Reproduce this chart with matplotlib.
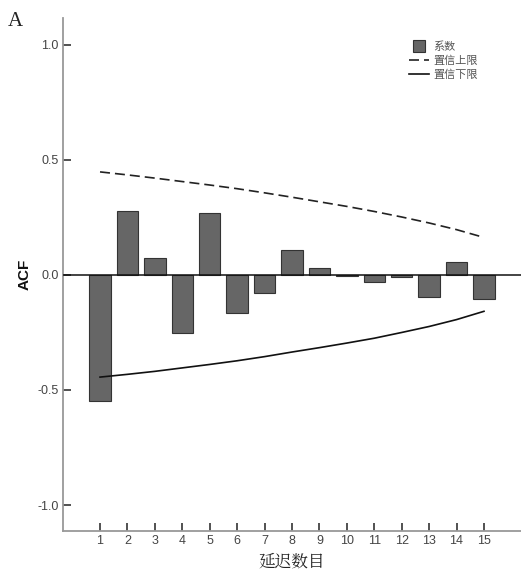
import matplotlib
matplotlib.use("Agg")
import matplotlib.pyplot as plt
from matplotlib.lines import Line2D

plt.rcParams['font.family'] = ['Liberation Sans', 'Noto Sans CJK SC', 'DejaVu Sans']

lags = [1, 2, 3, 4, 5, 6, 7, 8, 9, 10, 11, 12, 13, 14, 15]
acf = [-0.548, 0.280, 0.075, -0.252, 0.268, -0.165, -0.078, 0.107, 0.032,
       -0.003, -0.029, -0.009, -0.096, 0.058, -0.103]
upper = [0.448, 0.435, 0.421, 0.406, 0.391, 0.375, 0.357, 0.338, 0.318,
         0.298, 0.276, 0.252, 0.226, 0.197, 0.163]
lower = [-0.444, -0.432, -0.419, -0.404, -0.389, -0.373, -0.355, -0.335, -0.316,
         -0.296, -0.275, -0.250, -0.224, -0.194, -0.158]
yticks = [-1.0, -0.5, 0.0, 0.5, 1.0]
ytick_labels = ["-1.0", "-0.5", "0.0", "0.5", "1.0"]
legend_labels = ["系数", "置信上限", "置信下限"]

fig = plt.figure(figsize=(5.21, 5.75), dpi=100)
ax = fig.add_axes([63/521, 44/575, 1 - 63/521, (531-18)/575])

ax.bar(lags, acf, width=0.78, color='#666666', edgecolor='#333333', linewidth=0.8, zorder=2)
ax.axhline(0, color='#111111', linewidth=1.1, zorder=3)
ax.plot(lags, upper, color='#222222', linestyle=(0, (6, 3)), linewidth=1.2, zorder=4)
ax.plot(lags, lower, color='#111111', linestyle='-', linewidth=1.2, zorder=4)

ax.set_xlim(-0.35, 16.35)
ax.set_ylim(-1.113, 1.117)
ax.set_xticks(lags)
ax.set_xticklabels([str(l) for l in lags])
ax.set_yticks(yticks)
ax.set_yticklabels(ytick_labels)

for s in ['top', 'right']:
    ax.spines[s].set_visible(False)
for s in ['left', 'bottom']:
    ax.spines[s].set_color('#999999')
    ax.spines[s].set_linewidth(1.3)

ax.tick_params(axis='both', direction='in', length=6, width=1.2, color='#333333',
               labelcolor='#444444', labelsize=9, pad=3)

ax.set_ylabel("ACF", fontsize=11, fontweight='bold', color='#111111', labelpad=4)
ax.set_xlabel("延迟数目", fontsize=12, family=['Noto Serif CJK SC', 'Noto Sans CJK SC'],
              color='#222222', labelpad=4)

fig.text(8/521, 1 - 22/575, "A", family='Liberation Serif', fontsize=15, color='#222222', va='center')

handles = [Line2D([0], [0], color='none', marker='s', markersize=8.5,
                  markerfacecolor='#666666', markeredgecolor='#333333', markeredgewidth=0.8),
           Line2D([0], [0], color='#222222', linestyle=(0, (6, 3)), linewidth=1.2),
           Line2D([0], [0], color='#111111', linestyle='-', linewidth=1.2)]
leg = fig.legend(handles, legend_labels, loc='upper left', bbox_to_anchor=(403/521, 1 - 36/575),
                 frameon=False, handlelength=1.8, handletextpad=0.4,
                 labelspacing=0.3, borderpad=0,
                 prop={'family': ['Noto Sans CJK SC', 'DejaVu Sans'], 'size': 8})
for t in leg.get_texts():
    t.set_color('#555555')

fig.savefig("out.png", dpi=100)
